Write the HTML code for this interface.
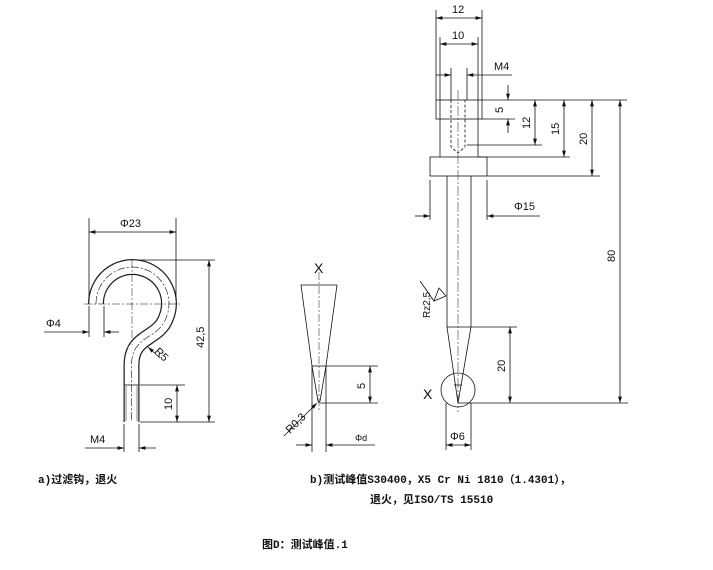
<!DOCTYPE html>
<html><head><meta charset="utf-8"><style>
body{margin:0;background:#fff;}
svg{display:block}
.t{font-family:"Liberation Sans",sans-serif;font-size:11px;fill:#111}
.c{font-family:"Liberation Mono","Noto Sans CJK SC",monospace;font-size:11px;font-weight:bold;fill:#111}
</style></head><body>
<svg width="713" height="570" viewBox="0 0 713 570" xmlns="http://www.w3.org/2000/svg">
<defs>
<marker id="a" viewBox="0 0 10 6" refX="10" refY="3" markerWidth="8" markerHeight="5" orient="auto-start-reverse"><path d="M0,0L10,3L0,6z" fill="#111"/></marker>
</defs>
<g stroke="#111" stroke-width="0.8" fill="none">
<!-- HOOK -->
<path d="M96,304 A36.5,36.5 0 1 1 166,318 C158,340 131.5,335 131.5,365 L131.5,422" stroke-width="16" stroke="#222"/>
<path d="M96,304 A36.5,36.5 0 1 1 166,318 C158,340 131.5,335 131.5,365 L131.5,422" stroke-width="13.5" stroke="#fff"/>
<path d="M96,304 A36.5,36.5 0 1 1 166,318 C158,340 131.5,335 131.5,365 L131.5,422" stroke-width="0.6" stroke-dasharray="8,2,2,2"/>
<line x1="124" y1="385" x2="139" y2="385"/>
<line x1="126" y1="386" x2="126" y2="421" stroke-width="0.5"/><line x1="137" y1="386" x2="137" y2="421" stroke-width="0.5"/>
<line x1="84" y1="304" x2="180" y2="304" stroke-dasharray="8,2,2,2" stroke-width="0.5"/>
<line x1="132" y1="260" x2="132" y2="345" stroke-dasharray="8,2,2,2" stroke-width="0.5"/>
<!-- hook dims -->
<line x1="89" y1="218" x2="89" y2="300"/><line x1="176" y1="218" x2="176" y2="300"/>
<line x1="89" y1="232" x2="176" y2="232" marker-start="url(#a)" marker-end="url(#a)"/>
<line x1="89" y1="306" x2="89" y2="337"/><line x1="104" y1="306" x2="104" y2="337"/>
<line x1="44" y1="332" x2="89" y2="332" marker-end="url(#a)"/><line x1="119" y1="332" x2="104" y2="332" marker-end="url(#a)"/>
<line x1="140" y1="260" x2="215" y2="260"/><line x1="140" y1="422" x2="215" y2="422"/>
<line x1="209" y1="260" x2="209" y2="422" marker-start="url(#a)" marker-end="url(#a)"/>
<line x1="140" y1="385" x2="185" y2="385"/>
<line x1="177" y1="385" x2="177" y2="422" marker-start="url(#a)" marker-end="url(#a)"/>
<line x1="124" y1="424" x2="124" y2="452"/><line x1="139" y1="424" x2="139" y2="452"/>
<line x1="85" y1="448" x2="124" y2="448" marker-end="url(#a)"/><line x1="156" y1="448" x2="139" y2="448" marker-end="url(#a)"/>
<line x1="160" y1="358" x2="148" y2="347" marker-end="url(#a)"/>
<!-- DETAIL X -->
<path d="M301,285 L337,285 L326,366 L320,401 Q319,404 318,401 L312,366 Z"/>
<line x1="312" y1="366" x2="326" y2="366"/>
<line x1="319" y1="272" x2="319" y2="412" stroke-dasharray="8,2,2,2" stroke-width="0.5"/>
<line x1="326" y1="366" x2="378" y2="366"/><line x1="320" y1="403" x2="378" y2="403"/>
<line x1="370" y1="366" x2="370" y2="403" marker-start="url(#a)" marker-end="url(#a)"/>
<line x1="312" y1="366" x2="312" y2="452"/><line x1="326" y1="366" x2="326" y2="452"/>
<line x1="296" y1="445" x2="312" y2="445" marker-end="url(#a)"/><line x1="375" y1="445" x2="326" y2="445" marker-end="url(#a)"/>
<line x1="284" y1="436" x2="317" y2="403" marker-end="url(#a)"/>
<!-- PIN -->
<rect x="436" y="100" width="46" height="19"/>
<path d="M440,119 V157 M478,119 V157"/>
<rect x="430" y="157" width="57" height="19"/>
<path d="M447,176 V327 M471,176 V327"/>
<path d="M447,327 H471 L458,403 Z"/>
<line x1="454" y1="385" x2="462" y2="385"/>
<path d="M451,100 V147 L458,153 L465,147 V100" stroke-dasharray="3,2"/>
<line x1="458" y1="90" x2="458" y2="412" stroke-dasharray="10,2,2,2" stroke-width="0.5"/>
<circle cx="458" cy="390" r="17"/>
<!-- pin dims -->
<line x1="436" y1="10" x2="436" y2="100"/><line x1="482" y1="10" x2="482" y2="100"/>
<line x1="436" y1="18" x2="482" y2="18" marker-start="url(#a)" marker-end="url(#a)"/>
<line x1="440" y1="37" x2="440" y2="119"/><line x1="478" y1="37" x2="478" y2="119"/>
<line x1="440" y1="44" x2="478" y2="44" marker-start="url(#a)" marker-end="url(#a)"/>
<line x1="451" y1="68" x2="451" y2="100"/><line x1="467" y1="68" x2="467" y2="100"/>
<line x1="436" y1="75" x2="451" y2="75" marker-end="url(#a)"/><line x1="512" y1="75" x2="467" y2="75" marker-end="url(#a)"/>
<line x1="482" y1="100" x2="627" y2="100"/>
<line x1="508" y1="85" x2="508" y2="100" marker-end="url(#a)"/><line x1="508" y1="133" x2="508" y2="119" marker-end="url(#a)"/>
<line x1="482" y1="119" x2="515" y2="119"/>
<line x1="467" y1="145" x2="542" y2="145"/>
<line x1="535" y1="100" x2="535" y2="145" marker-start="url(#a)" marker-end="url(#a)"/>
<line x1="478" y1="157" x2="570" y2="157"/>
<line x1="564" y1="100" x2="564" y2="157" marker-start="url(#a)" marker-end="url(#a)"/>
<line x1="487" y1="176" x2="600" y2="176"/>
<line x1="592" y1="100" x2="592" y2="176" marker-start="url(#a)" marker-end="url(#a)"/>
<line x1="458" y1="403" x2="628" y2="403"/>
<line x1="620" y1="100" x2="620" y2="403" marker-start="url(#a)" marker-end="url(#a)"/>
<line x1="430" y1="180" x2="430" y2="220"/><line x1="487" y1="180" x2="487" y2="220"/>
<line x1="415" y1="216" x2="430" y2="216" marker-end="url(#a)"/><line x1="540" y1="216" x2="487" y2="216" marker-end="url(#a)"/>
<line x1="471" y1="327" x2="517" y2="327"/>
<line x1="510" y1="327" x2="510" y2="403" marker-start="url(#a)" marker-end="url(#a)"/>
<line x1="446" y1="403" x2="446" y2="450"/><line x1="471" y1="403" x2="471" y2="450"/>
<line x1="446" y1="445" x2="471" y2="445" marker-start="url(#a)" marker-end="url(#a)"/>
<path d="M446,296 L439,288 L434,301 L446,296 M434,301 L420,281"/>
</g>
<g class="t">
<text x="120" y="227">Φ23</text>
<text x="46" y="327">Φ4</text>
<text x="90" y="443">M4</text>
<text transform="translate(204,348) rotate(-90)">42,5</text>
<text transform="translate(172,410) rotate(-90)">10</text>
<text transform="translate(154,352) rotate(45)">R5</text>
<text x="314" y="273" font-size="14">X</text>
<text transform="translate(365,389) rotate(-90)">5</text>
<text x="355" y="441" font-size="9">Φd</text>
<text transform="translate(290,434) rotate(-45)">R0,3</text>
<text x="452" y="13">12</text>
<text x="452" y="39">10</text>
<text x="494" y="70">M4</text>
<text transform="translate(503,113) rotate(-90)">5</text>
<text transform="translate(530,129) rotate(-90)">12</text>
<text transform="translate(559,135) rotate(-90)">15</text>
<text transform="translate(587,145) rotate(-90)">20</text>
<text transform="translate(615,262) rotate(-90)">80</text>
<text x="514" y="210">Φ15</text>
<text transform="translate(505,372) rotate(-90)">20</text>
<text x="450" y="440">Φ6</text>
<text x="423" y="399" font-size="14">X</text>
<text transform="translate(430,318) rotate(-90)" font-size="10">Rz2,5</text>
</g>
<g class="c">
<text x="38" y="483">a)过滤钩，退火</text>
<text x="310" y="483">b)测试峰值S30400，X5 Cr Ni 1810（1.4301），</text>
<text x="370" y="503">退火，见ISO/TS 15510</text>
<text x="262" y="548">图D：测试峰值.1</text>
</g>
</svg>
</body></html>
